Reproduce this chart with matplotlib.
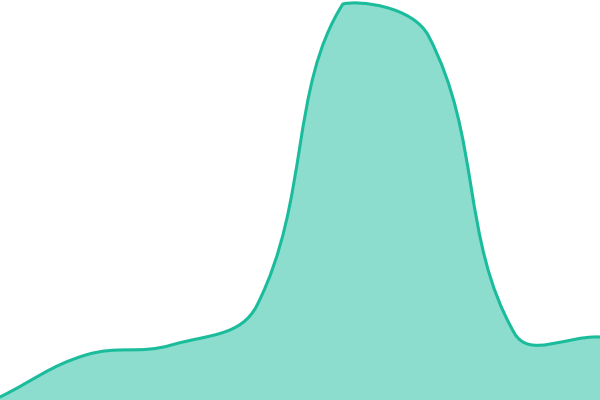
import numpy as np
import matplotlib
matplotlib.use('Agg')
import matplotlib.pyplot as plt
from matplotlib.path import Path
from matplotlib.patches import PathPatch

categories = ['A', 'B', 'C', 'D', 'E', 'F', 'G', 'H']
values = [3, 45, 55, 95, 396, 364, 67, 63]
y_max = 400
tension = 0.4

W, H = 600.0, 400.0
fig = plt.figure(figsize=(6, 4), dpi=100)
ax = fig.add_axes([0, 0, 1, 1])
n = len(categories)
ax.set_xlim(0, n - 1)
ax.set_ylim(0, y_max)
ax.axis('off')

sx = W / (n - 1)
sy = H / y_max
pts = np.column_stack([np.arange(n) * sx, np.array(values, float) * sy])

cp_prev = np.zeros_like(pts)
cp_next = np.zeros_like(pts)
for i in range(n):
    cur = pts[i]
    prev = pts[i - 1] if i > 0 else cur
    nxt = pts[i + 1] if i < n - 1 else cur
    d01 = np.hypot(*(cur - prev))
    d12 = np.hypot(*(nxt - cur))
    tot = d01 + d12
    s01 = d01 / tot if tot else 0
    s12 = d12 / tot if tot else 0
    fa = tension * s01
    fb = tension * s12
    cp_prev[i] = cur - fa * (nxt - prev)
    cp_next[i] = cur + fb * (nxt - prev)
cp_prev[:, 0] = np.clip(cp_prev[:, 0], 0, W)
cp_next[:, 0] = np.clip(cp_next[:, 0], 0, W)
cp_prev[:, 1] = np.clip(cp_prev[:, 1], 0, H)
cp_next[:, 1] = np.clip(cp_next[:, 1], 0, H)

verts = [pts[0]]
codes = [Path.MOVETO]
for i in range(n - 1):
    verts += [cp_next[i], cp_prev[i + 1], pts[i + 1]]
    codes += [Path.CURVE4] * 3
verts = np.array(verts)
verts[:, 0] /= sx
verts[:, 1] /= sy

line_path = Path(verts, codes)
fill_verts = np.vstack([verts, [[n - 1, 0], [0, 0], [0, 0]]])
fill_codes = codes + [Path.LINETO, Path.LINETO, Path.CLOSEPOLY]
fill_path = Path(fill_verts, fill_codes)

ax.add_patch(PathPatch(fill_path, facecolor='#1abc9c', alpha=0.5, edgecolor='none'))
ax.add_patch(PathPatch(line_path, facecolor='none', edgecolor='#1abc9c',
                       linewidth=2.2, joinstyle='round', capstyle='round'))

fig.savefig('out.png', dpi=100)
